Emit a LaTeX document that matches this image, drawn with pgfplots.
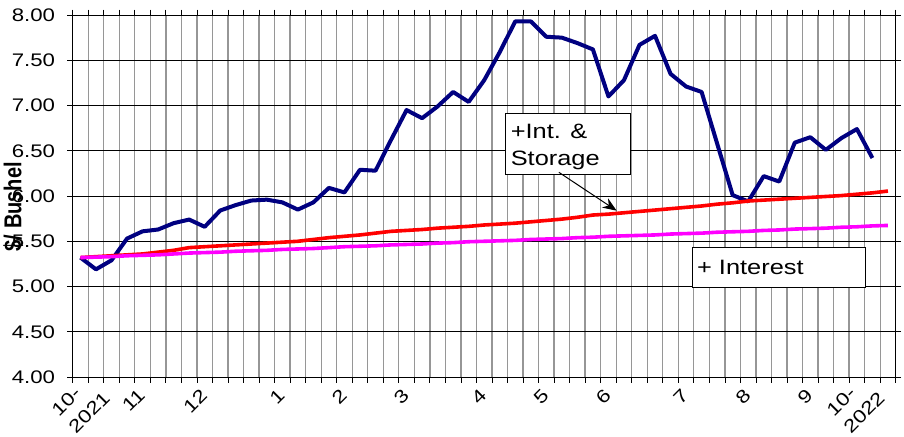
\documentclass[border=0pt]{standalone}
\usepackage{fontspec}
\setmainfont{Liberation Sans}[FakeStretch=1.22]
\newfontfamily\ylfont{Liberation Sans}
\usepackage{pgfplots}
\pgfplotsset{compat=1.18}
\usetikzlibrary{arrows.meta}
\newcommand\tickfont{\fontsize{18.2bp}{24bp}\selectfont}
\newcommand\annfont{\fontsize{20.8bp}{27bp}\selectfont}
\definecolor{navyblue}{RGB}{0,0,128}
\definecolor{gridgray}{RGB}{150,150,150}
\definecolor{puremagenta}{RGB}{255,0,255}
\definecolor{purered}{RGB}{255,0,0}
\begin{document}
\begin{tikzpicture}
\begin{axis}[
  scale only axis, width=823bp, height=362bp,
  xmin=0, xmax=53, ymin=4, ymax=8,
  clip=false,
  axis line style={black, line width=0.8bp},
  tick align=outside,
  xtick={4.15,8.15,13.15,17.15,21.15,26.15,30.15,34.15,39.15,43.15,47.15},
  xticklabels={11,12,1,2,3,4,5,6,7,8,9},
  minor xtick={0,1,...,53},
  major tick length=5.5bp,
  minor tick length=5.5bp,
  major x tick style={draw=none},
  minor x tick style={black, line width=0.8bp},
  major y tick style={black, line width=0.8bp},
  xticklabel shift=5bp,
  ytick={4,4.5,...,8},
  xmajorgrids=false, xminorgrids=true, ymajorgrids=true,
  minor x grid style={gridgray, line width=1.3bp},
  major y grid style={black, line width=0.8bp},
  /pgf/number format/assume math mode=true,
  yticklabel={\pgfmathprintnumber[fixed,fixed zerofill,precision=2]{\tick}},
  yticklabel style={font=\tickfont, anchor=east, inner sep=0pt, xshift=-12bp},
  xticklabel style={font=\tickfont, rotate=45, anchor=north east, inner sep=0pt},
]
% Blue: cash price
\addplot[navyblue, line width=4bp, line join=round] coordinates {
(0.5,5.32) (1.5,5.19) (2.5,5.29) (3.5,5.53) (4.5,5.61) (5.5,5.63) (6.5,5.70) (7.5,5.74)
(8.5,5.66) (9.5,5.84) (10.5,5.90) (11.5,5.95) (12.5,5.96) (13.5,5.93) (14.5,5.85) (15.5,5.93)
(16.5,6.09) (17.5,6.04) (18.5,6.29) (19.5,6.28) (20.5,6.62) (21.5,6.95) (22.5,6.86) (23.5,6.99)
(24.5,7.15) (25.5,7.04) (26.5,7.28) (27.5,7.59) (28.5,7.93) (29.5,7.93) (30.5,7.76) (31.5,7.75)
(32.5,7.69) (33.5,7.62) (34.5,7.10) (35.5,7.28) (36.5,7.67) (37.5,7.77) (38.5,7.35) (39.5,7.21)
(40.5,7.15) (41.5,6.58) (42.5,6.01) (43.5,5.94) (44.5,6.22) (45.5,6.16) (46.5,6.59) (47.5,6.65)
(48.5,6.51) (49.5,6.64) (50.5,6.74) (51.5,6.42)
};
% Red: + interest & storage
\addplot[purered, line width=3.6bp] coordinates {
(0.5,5.32) (1.5,5.33) (2.5,5.34) (3.5,5.35) (4.5,5.36) (5.5,5.38) (6.5,5.40) (7.5,5.43)
(8.5,5.44) (9.5,5.45) (10.5,5.46) (11.5,5.47) (12.5,5.48) (13.5,5.49) (14.5,5.50) (15.5,5.52)
(16.5,5.54) (17.5,5.555) (18.5,5.57) (19.5,5.59) (20.5,5.61) (21.5,5.62) (22.5,5.63) (23.5,5.645)
(24.5,5.655) (25.5,5.665) (26.5,5.68) (27.5,5.69) (28.5,5.70) (29.5,5.715) (30.5,5.73) (31.5,5.745)
(32.5,5.765) (33.5,5.79) (34.5,5.80) (35.5,5.815) (36.5,5.83) (37.5,5.845) (38.5,5.86) (39.5,5.875)
(40.5,5.89) (41.5,5.91) (42.5,5.925) (43.5,5.945) (44.5,5.955) (45.5,5.965) (46.5,5.975) (47.5,5.985)
(48.5,5.995) (49.5,6.005) (50.5,6.02) (51.5,6.035) (52.5,6.055)
};
% Magenta: + interest
\addplot[puremagenta, line width=3.6bp] coordinates {
(0.5,5.32) (1.5,5.325) (2.5,5.33) (3.5,5.34) (4.5,5.345) (5.5,5.35) (6.5,5.36) (7.5,5.37)
(8.5,5.375) (9.5,5.38) (10.5,5.39) (11.5,5.395) (12.5,5.40) (13.5,5.41) (14.5,5.415) (15.5,5.42)
(16.5,5.43) (17.5,5.44) (18.5,5.445) (19.5,5.45) (20.5,5.46) (21.5,5.465) (22.5,5.47) (23.5,5.48)
(24.5,5.485) (25.5,5.495) (26.5,5.50) (27.5,5.505) (28.5,5.51) (29.5,5.52) (30.5,5.525) (31.5,5.53)
(32.5,5.54) (33.5,5.545) (34.5,5.555) (35.5,5.56) (36.5,5.565) (37.5,5.57) (38.5,5.58) (39.5,5.585)
(40.5,5.59) (41.5,5.60) (42.5,5.605) (43.5,5.61) (44.5,5.62) (45.5,5.625) (46.5,5.635) (47.5,5.64)
(48.5,5.645) (49.5,5.655) (50.5,5.66) (51.5,5.67) (52.5,5.675)
};
% year labels
\node[font=\tickfont, rotate=45, anchor=north east, align=left, inner sep=0pt] at (axis cs:0.8,4.044) {10-\\2021};
\node[font=\tickfont, rotate=45, anchor=north east, align=left, inner sep=0pt] at (axis cs:50.7,4.044) {10-\\2022};
% y label
\node[font=\ylfont\bfseries\fontsize{20bp}{24bp}\selectfont, xscale=1.22, rotate=90] at (axis cs:-3.825,5.882) {\$/ Bushel};
% annotation boxes
\draw[black, line width=0.8bp, fill=white] (axis cs:27.88,6.914) rectangle (axis cs:35.93,6.243);
\node[font=\annfont, anchor=base west, inner sep=0pt] at (axis cs:28.2,6.638) {+Int. \&};
\node[font=\annfont, anchor=base west, inner sep=0pt] at (axis cs:28.2,6.335) {Storage};
\draw[black, line width=1bp, -{Stealth[length=14bp,width=11bp]}] (axis cs:31.31,6.262) -- (axis cs:35.03,5.838);
\draw[black, line width=0.8bp, fill=white] (axis cs:39.92,5.433) rectangle (axis cs:51.02,4.991);
\node[font=\annfont, anchor=base west, inner sep=0pt] at (axis cs:40.2,5.138) {+ Interest};
\coordinate (bbl) at (axis cs:-4.681,3.348);
\coordinate (btr) at (axis cs:53.534,8.166);
\end{axis}
\pgfresetboundingbox
\path (bbl) rectangle (btr);
\end{tikzpicture}
\end{document}
